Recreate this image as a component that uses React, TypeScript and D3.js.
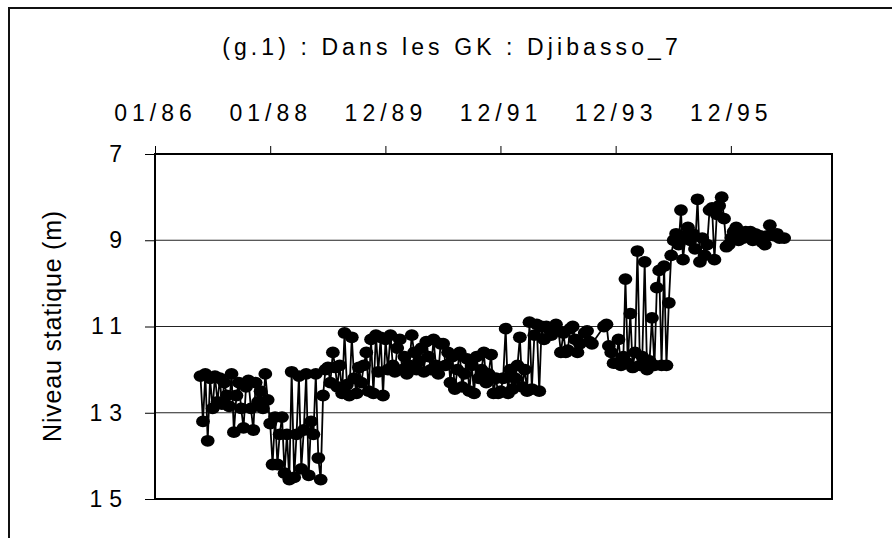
import React, { useRef, useEffect } from "react";
import * as d3 from "d3";

// niveau statique (m), relevés du 1er et du 16 de chaque mois (null = pas de mesure)
const niv1986 = [null, null, null, null, null, null, null, null, null, null, null, null,
  null, null, null, null, null, null, null, 12.15, 13.2, 12.1, 13.65, 12.2];
const niv1987 = [12.9, 12.15, 12.75, 12.2, 12.8, 12.3, 12.6, 12.85, 12.1, 13.45, 12.6, 12.3,
  12.9, 13.35, 12.4, 12.25, 12.9, 13.4, 12.3, 12.75, 12.5, 12.9, 12.1, 12.7];
const niv1988 = [13.25, 14.2, 13.1, 14.2, 13.5, 13.1, 14.4, 13.5, 14.55, 12.05, 14.5, 13.5,
  12.15, 14.3, 13.4, 12.1, 14.45, 13.2, 13.5, 12.1, 14.05, 14.55, 12.6, 12.0];
const niv1989 = [11.95, 12.3, 11.6, 11.95, 12.4, 11.9, 12.55, 11.15, 12.35, 12.6, 11.25, 12.2,
  12.55, 11.95, 12.3, 11.9, 11.6, 12.5, 11.3, 12.55, 11.2, 12.05, 11.25, 12.6];
const niv1990 = [11.3, 12.0, 11.2, 11.9, 12.05, 11.5, 11.3, 12.0, 11.7, 12.1, 11.9, 11.2,
  11.6, 12.0, 11.8, 11.5, 12.05, 11.35, 11.7, 12.0, 11.3, 11.9, 12.1, 11.4];
const niv1991 = [11.4, 11.9, 11.6, 12.3, 11.7, 12.45, 12.0, 11.6, 12.4, 12.1, 11.75, 12.5,
  11.9, 12.55, 11.7, 12.2, 12.0, 11.6, 12.3, 12.1, 11.65, 12.55, 12.2, 12.55];
const niv1992 = [12.5, 12.2, 11.05, 12.55, 12.0, 12.45, 12.2, 11.9, 11.25, 12.4, 12.0, 12.5,
  10.9, 12.45, 11.2, 10.95, 12.5, 11.0, 11.3, 11.0, 11.05, 11.2, 11.1, 10.95];
const niv1993 = [11.1, 11.6, 11.15, 11.6, 11.55, 11.05, 11.0, 11.3, 11.6, 11.4, null, 11.15,
  11.1, 11.35, 11.4, null, null, null, null, 11.0, 10.95, 11.45, 11.6, 11.85];
const niv1994 = [11.85, 11.3, 11.9, 11.7, 9.9, 11.85, 10.7, 11.95, 11.6, 9.25, 11.9, 11.7,
  9.5, 12.0, 11.8, 10.8, 11.9, 10.1, 9.7, 11.9, 9.6, 11.9, 10.45, 9.35];
const niv1995 = [9.0, 8.85, 9.1, 8.3, 9.45, 8.9, 8.7, 9.0, 8.85, 9.2, 8.05, 9.5,
  8.95, 9.35, 9.1, 8.3, 8.25, 9.45, 8.4, 8.2, 8.0, 8.5, 9.15, 9.1];
const niv1996 = [8.95, 8.8, 8.7, 9.0, 8.85, 8.95, 8.8, 8.9, 8.8, 9.0, 8.85, 8.95,
  8.9, 9.05, 9.1, 8.9, 8.65, 8.85, 8.9, 8.85, 8.95, null, 8.95, null];

const years = [1986, 1987, 1988, 1989, 1990, 1991, 1992, 1993, 1994, 1995, 1996];
const levels = [niv1986, niv1987, niv1988, niv1989, niv1990, niv1991, niv1992, niv1993, niv1994, niv1995, niv1996];

const yTicks = [7, 9, 11, 13, 15];
const xTicks = ["1986-01-01", "1988-01-01", "1989-12-31", "1991-12-30", "1993-12-29", "1995-12-29"];
const title = "(g.1) : Dans les GK : Djibasso_7";
const yTitle = "Niveau statique (m)";

const font = "'Liberation Sans', Arial, sans-serif";

const App = () => {
  const svgRef = useRef<SVGSVGElement>(null);
  const plot = { left: 155, right: 832, top: 154, bottom: 499 };

  useEffect(() => {
    const svg = d3.select(svgRef.current);
    svg.selectAll("*").remove();

    const data: { d: Date; v: number }[] = [];
    years.forEach((yr, i) => {
      levels[i].forEach((v, k) => {
        if (v == null) return;
        data.push({ d: new Date(yr, Math.floor(k / 2), k % 2 === 0 ? 1 : 16), v });
      });
    });

    const start = new Date(1986, 0, 1);
    const x = d3.scaleTime()
      .domain([start, d3.timeDay.offset(start, 4290)])
      .range([plot.left, plot.right]);
    const y = d3.scaleLinear().domain([7, 15]).range([plot.top, plot.bottom]);

    // cadre extérieur
    svg.append("rect")
      .attr("x", 9).attr("y", 8).attr("width", 1000).attr("height", 1000)
      .attr("fill", "none").attr("stroke", "#111").attr("stroke-width", 2);

    // quadrillage
    svg.append("g")
      .selectAll("line")
      .data(yTicks.slice(1, -1))
      .join("line")
      .attr("x1", plot.left).attr("x2", plot.right)
      .attr("y1", d => y(d)).attr("y2", d => y(d))
      .attr("stroke", "#222").attr("stroke-width", 1.2);

    // série
    const myLine = d3.line<{ d: Date; v: number }>()
      .x(p => x(p.d))
      .y(p => y(p.v));
    svg.append("path")
      .datum(data)
      .attr("d", myLine)
      .attr("fill", "none")
      .attr("stroke", "#000")
      .attr("stroke-width", 1.8);
    svg.append("g")
      .selectAll("ellipse")
      .data(data)
      .join("ellipse")
      .attr("cx", p => x(p.d))
      .attr("cy", p => y(p.v))
      .attr("rx", 6.9).attr("ry", 5.9)
      .attr("fill", "#000");

    // bords de la zone de tracé
    svg.append("rect")
      .attr("x", plot.left).attr("y", plot.top)
      .attr("width", plot.right - plot.left).attr("height", plot.bottom - plot.top)
      .attr("fill", "none").attr("stroke", "#000").attr("stroke-width", 2);

    // axe des dates (en haut)
    const gx = svg.append("g")
      .attr("transform", `translate(0,${plot.top})`)
      .call(d3.axisTop(x)
        .tickValues(xTicks.map(s => d3.timeParse("%Y-%m-%d")(s) as Date))
        .tickFormat(d3.timeFormat("%m/%y") as any)
        .tickSize(8)
        .tickPadding(25));
    gx.select(".domain").remove();
    gx.selectAll("line").attr("stroke", "#000");
    gx.selectAll("text")
      .attr("font-family", font).attr("font-size", 23)
      .attr("letter-spacing", 5).attr("fill", "#000");

    // axe des niveaux
    const gy = svg.append("g")
      .attr("transform", `translate(${plot.left},0)`)
      .call(d3.axisLeft(y).tickValues(yTicks).tickFormat(d3.format("d")).tickSize(10).tickPadding(16));
    gy.select(".domain").remove();
    gy.selectAll("line").attr("stroke", "#000");
    gy.selectAll("text")
      .attr("font-family", font).attr("font-size", 23)
      .attr("letter-spacing", 7).attr("fill", "#000");

    svg.append("text")
      .attr("x", 452).attr("y", 55)
      .attr("text-anchor", "middle")
      .attr("font-family", font).attr("font-size", 23)
      .attr("letter-spacing", 4.1)
      .text(title);

    svg.append("text")
      .attr("transform", "translate(61,326) rotate(-90)")
      .attr("text-anchor", "middle")
      .attr("font-family", font).attr("font-size", 25)
      .attr("letter-spacing", 0.8)
      .text(yTitle);
  }, []);

  return (
    <svg
      ref={svgRef}
      width={892}
      height={538}
      style={{ position: "absolute", left: 0, top: 0, background: "#fff" }}
    />
  );
};

export default App;
